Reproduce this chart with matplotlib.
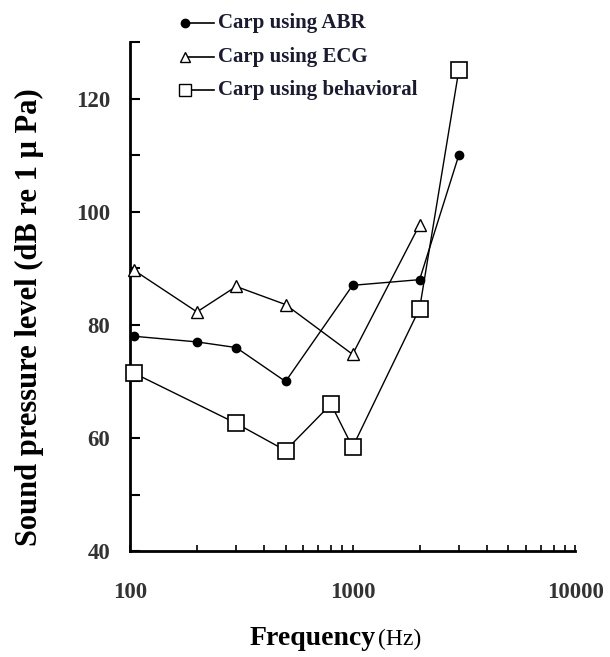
import numpy as np
import matplotlib.pyplot as plt
from matplotlib.lines import Line2D
from matplotlib.ticker import FixedLocator, NullFormatter

plt.rcParams['font.family'] = ['Liberation Serif', 'DejaVu Serif']
plt.rcParams['font.weight'] = 'bold'

# Hearing thresholds of carp (dB re 1 uPa) by method
freq_abr = [104, 200, 300, 500, 1000, 2000, 3000]
spl_abr = [78, 77, 76, 70, 87, 88, 110]

freq_ecg = [104, 200, 300, 500, 1000, 2000]
spl_ecg = [89.7, 82.3, 86.8, 83.6, 74.8, 97.7]

freq_beh = [104, 300, 500, 800, 1000, 2000, 3000]
spl_beh = [71.5, 62.6, 57.8, 66, 58.4, 82.9, 125]

labels = ['Carp using ABR', 'Carp using ECG', 'Carp using behavioral']

fig = plt.figure(figsize=(6.1, 6.57), dpi=100)
ax = fig.add_axes([0.213, 0.161, 0.730, 0.775])

ax.plot(freq_abr, spl_abr, color='black', lw=1, marker='o', ms=6,
        mfc='black', mec='black', clip_on=False, zorder=3)
ax.plot(freq_ecg, spl_ecg, color='black', lw=1, marker='^', ms=8,
        mfc='white', mec='black', mew=1, clip_on=False, zorder=3)
ax.plot(freq_beh, spl_beh, color='black', lw=1, marker='s', ms=12,
        mfc='white', mec='black', mew=1.2, clip_on=False, zorder=4)

ax.set_xscale('log')
ax.set_xlim(100, 10000)
ax.set_ylim(40, 130)

ax.spines['top'].set_visible(False)
ax.spines['right'].set_visible(False)
for s in ['left', 'bottom']:
    ax.spines[s].set_linewidth(2)

ax.yaxis.set_major_locator(FixedLocator([40, 60, 80, 100, 120]))
ax.yaxis.set_minor_locator(FixedLocator([50, 70, 90, 110, 130]))
ax.xaxis.set_major_locator(FixedLocator([100, 1000, 10000]))
minors = [m * d for d in (100, 1000) for m in range(2, 10)]
ax.xaxis.set_minor_locator(FixedLocator(minors))
ax.xaxis.set_minor_formatter(NullFormatter())
ax.set_xticklabels(['100', '1000', '10000'])

ax.tick_params(axis='y', which='both', direction='in', length=7, width=1.5,
               pad=14, labelsize=16.5)
ax.tick_params(axis='x', which='both', direction='in', length=4, width=1.2,
               pad=22, labelsize=16.5)
for t in ax.get_xticklabels() + ax.get_yticklabels():
    t.set_fontweight('bold')
    t.set_color('#333333')

fig.text(29 / 610, 0.5 * (1 - 87 / 657 + 1 - 547 / 657),
         'Sound pressure level (dB re 1 \u03bc Pa)', fontsize=22,
         fontweight='bold', rotation=90, ha='center', va='center')
fig.text(376 / 610, 12 / 657, 'Frequency', fontsize=20, fontweight='bold',
         ha='right', va='baseline')
fig.text(378 / 610, 12 / 657, '(Hz)', fontsize=17, fontweight='normal',
         ha='left', va='baseline')

# legend drawn by hand, marker at the left end of each handle
rows = [(23, 'o', 6, 'black'), (57, '^', 7, 'white'), (90, 's', 8, 'white')]
for (ypx, mk, ms, fc), lab in zip(rows, labels):
    yf = 1 - ypx / 657
    x0, x1 = 185 / 610, 214 / 610
    fig.add_artist(Line2D([x0, x1], [yf, yf], transform=fig.transFigure,
                          color='black', lw=1.2))
    fig.add_artist(Line2D([x0], [yf], transform=fig.transFigure, marker=mk,
                          ms=ms, mfc=fc, mec='black', mew=1, color='black'))
    fig.text(218 / 610, yf, lab, fontsize=15, fontweight='bold',
             color='#1a1a33', va='center', ha='left')

fig.savefig('out.png', dpi=100)
